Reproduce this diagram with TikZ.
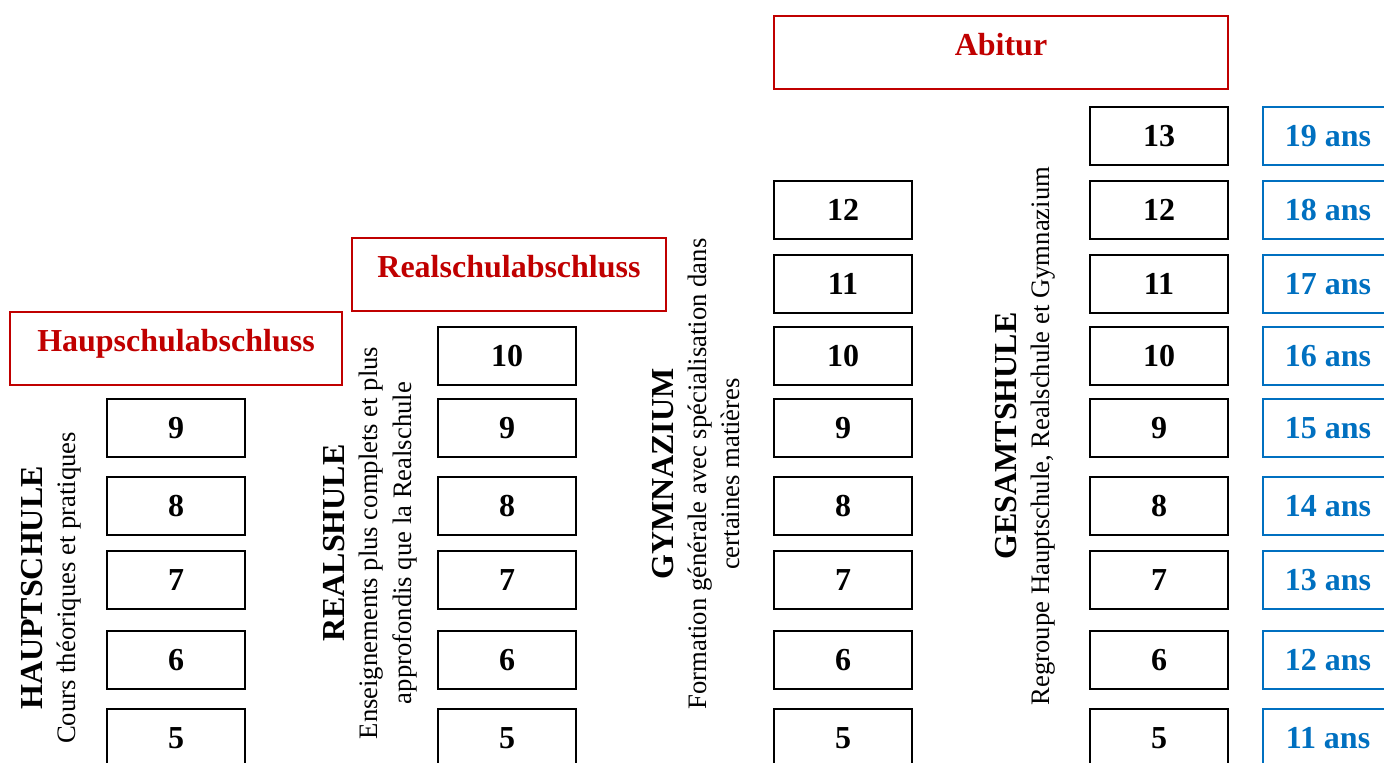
\documentclass[tikz,border=0pt]{standalone}
\usepackage{fontspec}
\setmainfont{Liberation Serif}
\usepackage{xcolor}
\usepackage{tikz}
\definecolor{diplred}{HTML}{C00000}
\definecolor{ageblue}{HTML}{0070C0}
\tikzset{
    yearbox/.style={draw, rectangle, line width=1.3pt, minimum width=103.5pt, minimum height=43.5pt, inner sep=0pt, font=\fontsize{24}{28}\selectfont\bfseries},
    agebox/.style={yearbox, draw=ageblue, text=ageblue, minimum width=97.5pt},
    diplbox/.style={draw=diplred, text=diplred, rectangle, line width=1.3pt, minimum height=54.75pt, inner sep=0pt, text height=0.68em, text depth=0.22em, font=\fontsize{24}{28}\selectfont\bfseries},
    schooltext/.style={rotate=90, align=center, font=\fontsize{20}{25}\selectfont},
    schooltitle/.style={font=\fontsize{24}{28}\selectfont\bfseries}
}

\begin{document}
\begin{tikzpicture}[x=0.75pt, y=-0.75pt]
            \useasboundingbox (0,0) rectangle (1384,763);
            \clip (0,0) rectangle (1384,763);

            % diplomas
            \node[diplbox, minimum width=249pt] (haupt) at (176,348.5) {Haupschulabschluss};
            \node[diplbox, minimum width=235.5pt] (real) at (509,274.5) {Realschulabschluss};
            \node[diplbox, minimum width=340.5pt] (abitur) at (1001,52.5) {Abitur};

            % school types
            \node[schooltext] (hauptTxt) at (51,588) {{\fontsize{24}{28}\selectfont\bfseries HAUPTSCHULE}\\Cours théoriques et pratiques};
            \node[schooltext] (realTxt) at (370,543) {{\fontsize{24}{28}\selectfont\bfseries REALSHULE}\\Enseignements plus complets et plus\\approfondis que la Realschule};
            \node[schooltext] (gymTxt) at (696,474) {{\fontsize{24}{28}\selectfont\bfseries GYMNAZIUM}\\Formation générale avec spécialisation dans\\certaines matières};
            \node[schooltext] (gesTxt) at (1025,436) {{\fontsize{24}{28}\selectfont\bfseries GESAMTSHULE}\\Regroupe Hauptschule, Realschule et Gymnazium};

            % classes
            \foreach \g/\y in {9/428,8/506,7/580,6/660,5/738}
                \node[yearbox] (h\g) at (176,\y) {\g};
            \foreach \g/\y in {10/356,9/428,8/506,7/580,6/660,5/738}
                \node[yearbox] (r\g) at (507,\y) {\g};
            \foreach \g/\y in {12/210,11/284,10/356,9/428,8/506,7/580,6/660,5/738}
                \node[yearbox] (gy\g) at (843,\y) {\g};
            \foreach \g/\y in {13/136,12/210,11/284,10/356,9/428,8/506,7/580,6/660,5/738}
                \node[yearbox] (ge\g) at (1159,\y) {\g};

            % ages
            \foreach \a/\y in {19/136,18/210,17/284,16/356,15/428,14/506,13/580,12/660,11/738}
                \node[agebox] (age\a) at (1328,\y) {\a{} ans};
        \end{tikzpicture}
\end{document}
